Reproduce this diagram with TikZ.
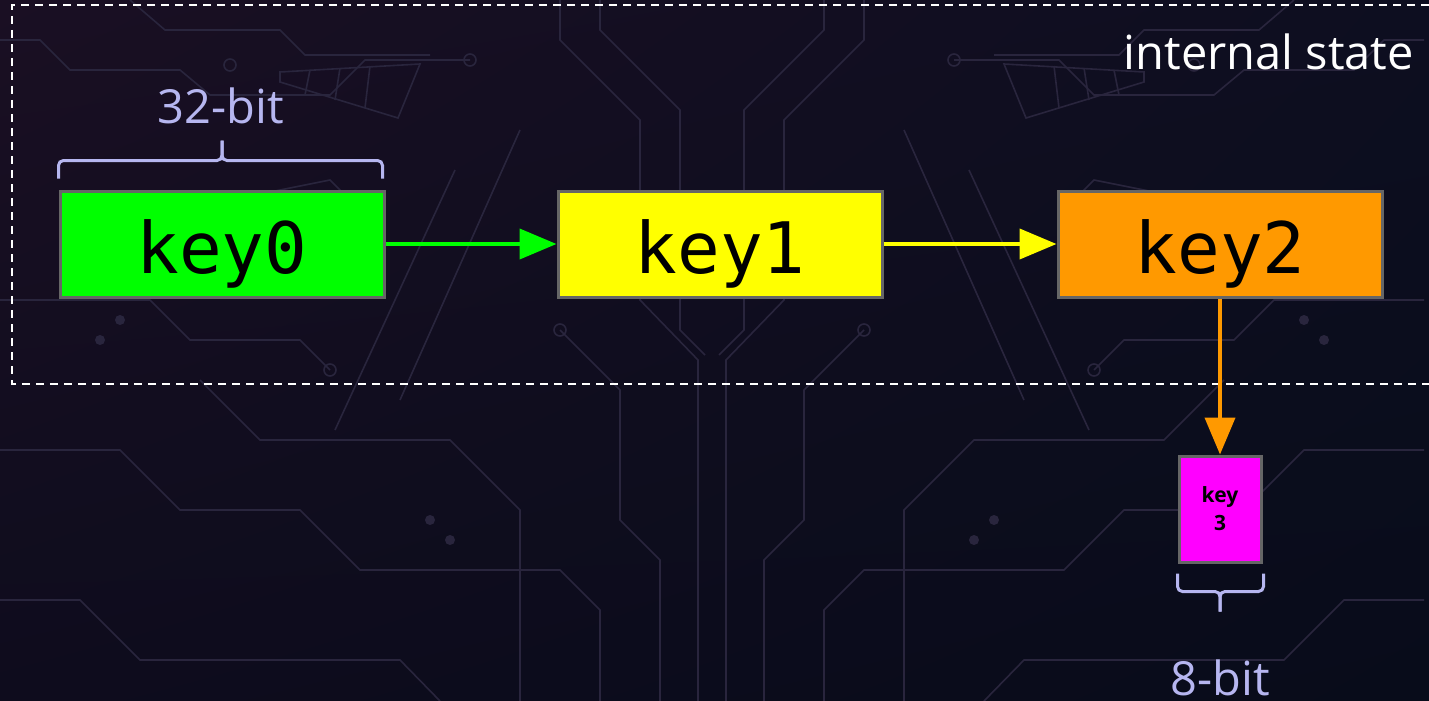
\documentclass[tikz,border=0pt]{standalone}
\usepackage{fontspec}
\setmainfont{Open Sans}
\newfontfamily\monof{DejaVu Sans Mono}
\usetikzlibrary{arrows.meta,calc,shadings}
\definecolor{bgUL}{HTML}{1A0F23}
\definecolor{bgUR}{HTML}{0D0E20}
\definecolor{bgLL}{HTML}{0E0C1D}
\definecolor{bgLR}{HTML}{080C1A}
\definecolor{trace}{HTML}{29253D}
\definecolor{keygreen}{HTML}{00FF00}
\definecolor{keyyellow}{HTML}{FFFF00}
\definecolor{keyorange}{HTML}{FF9900}
\definecolor{keymagenta}{HTML}{FF00FF}
\definecolor{boxborder}{HTML}{666666}
\definecolor{lavender}{HTML}{B6B6F0}
\newcommand{\circuittraces}{%
  \draw[tracestyle] (0,40) -- (40,40) -- (70,70) -- (180,70) -- (210,95) -- (330,95) -- (365,60) -- (470,60);
  \draw[tracestyle] (130,0) -- (165,30) -- (280,30) -- (305,55) -- (430,55);
  \draw[tracestyle] (280,72) -- (420,64) -- (398,118) -- (280,82) -- cycle;
  \draw[tracestyle] (310,70) -- (305,95) (340,68) -- (335,100) (370,66) -- (365,108);
  \draw[tracestyle] (230,200) -- (330,180) -- (360,210) -- (360,260);
  \draw[tracestyle] (520,130) -- (400,400);
  \draw[tracestyle] (455,170) -- (335,430);
  \draw[tracestyle] (560,0) -- (560,40) -- (640,120) -- (640,300) -- (698,360) -- (698,701);
  \draw[tracestyle] (600,0) -- (600,30) -- (680,110) -- (680,330) -- (705,355);
  \draw[tracestyle] (0,450) -- (120,450) -- (180,510) -- (300,510) -- (360,570) -- (560,570) -- (600,610) -- (600,701);
  \draw[tracestyle] (0,600) -- (80,600) -- (140,660) -- (400,660) -- (440,701);
  \draw[tracestyle] (200,380) -- (260,440) -- (450,440) -- (520,510) -- (520,701);
  \draw[tracestyle] (0,300) -- (150,300) -- (190,340) -- (300,340) -- (330,370);
  \draw[tracestyle] (560,330) -- (620,390) -- (620,520) -- (660,560) -- (660,701);
  \draw[tracestyle] (230,65) circle (6) (470,60) circle (6) (330,370) circle (6) (360,260) circle (6) (560,330) circle (6);
  \fill[trace] (120,320) circle (5) (100,340) circle (5) (430,520) circle (5) (450,540) circle (5);
}
\begin{document}
\begin{tikzpicture}[x=1pt,y=-1pt,
  tracestyle/.style={draw=trace,line width=1.6pt},
  keybox/.style={draw=boxborder,line width=3pt,inner sep=0pt,minimum width=324pt,minimum height=106pt,
    font=\monof\fontsize{71}{84}\selectfont,text height=58pt,text depth=0pt},
  smallbox/.style={draw=boxborder,line width=3pt,inner sep=0pt,minimum width=82pt,minimum height=106pt,
    font=\bfseries\fontsize{21}{28}\selectfont,align=center},
  flow/.style={line width=4pt,-{Triangle[length=37pt,width=30pt]}},
  bracket/.style={draw=lavender,line width=3pt,rounded corners=5pt},
  bitlabel/.style={text=lavender,font=\fontsize{47}{56}\selectfont,inner sep=0pt,anchor=base}]
\useasboundingbox (0,0) rectangle (1429,701);
\shade[upper left=bgUL,upper right=bgUR,lower left=bgLL,lower right=bgLR] (0,0) rectangle (1429,701);
\circuittraces
\begin{scope}[xshift=1424pt,xscale=-1]
\circuittraces
\end{scope}
% internal state region
\draw[white,line width=2pt,dash pattern=on 8pt off 6pt] (1429,5) -- (12,5) -- (12,384) -- (1429,384);
\node[text=white,font=\fontsize{47}{56}\selectfont,inner sep=0pt,anchor=base east] (state) at (1414,70) {internal state};
% keys
\node[keybox,fill=keygreen] (k0) at (222,244) {key0};
\node[keybox,fill=keyyellow] (k1) at (720,244) {key1};
\node[keybox,fill=keyorange] (k2) at (1220,244) {key2};
\node[smallbox,fill=keymagenta] (k3) at (1220,509) {key\\3};
% arrows
\draw[flow,keygreen] (k0) -- (k1);
\draw[flow,keyyellow] (k1) -- (k2);
\draw[flow,keyorange] (k2.south) -- (k3.north);
% braces
\coordinate (b0l) at ($(k0.north west)+(0,-11)$);
\coordinate (b0r) at ($(k0.north east)+(-3,-11)$);
\coordinate (b0m) at ($(k0.north)+(0,-29)$);
\coordinate (b0t) at ($(k0.north)+(0,-49)$);
\draw[bracket] (b0l) |- (b0m) -- (b0t);
\draw[bracket] (b0r) |- (b0m) -- (b0t);
\node[bitlabel] (l32) at (221,123) {32-bit};
\coordinate (b3l) at ($(k3.south west)+(0,10)$);
\coordinate (b3r) at ($(k3.south east)+(1,10)$);
\coordinate (b3m) at ($(k3.south)+(0,28)$);
\coordinate (b3t) at ($(k3.south)+(0,48)$);
\draw[bracket] (b3l) |- (b3m) -- (b3t);
\draw[bracket] (b3r) |- (b3m) -- (b3t);
\node[bitlabel] (l8) at (1220,695) {8-bit};
\end{tikzpicture}
\end{document}
